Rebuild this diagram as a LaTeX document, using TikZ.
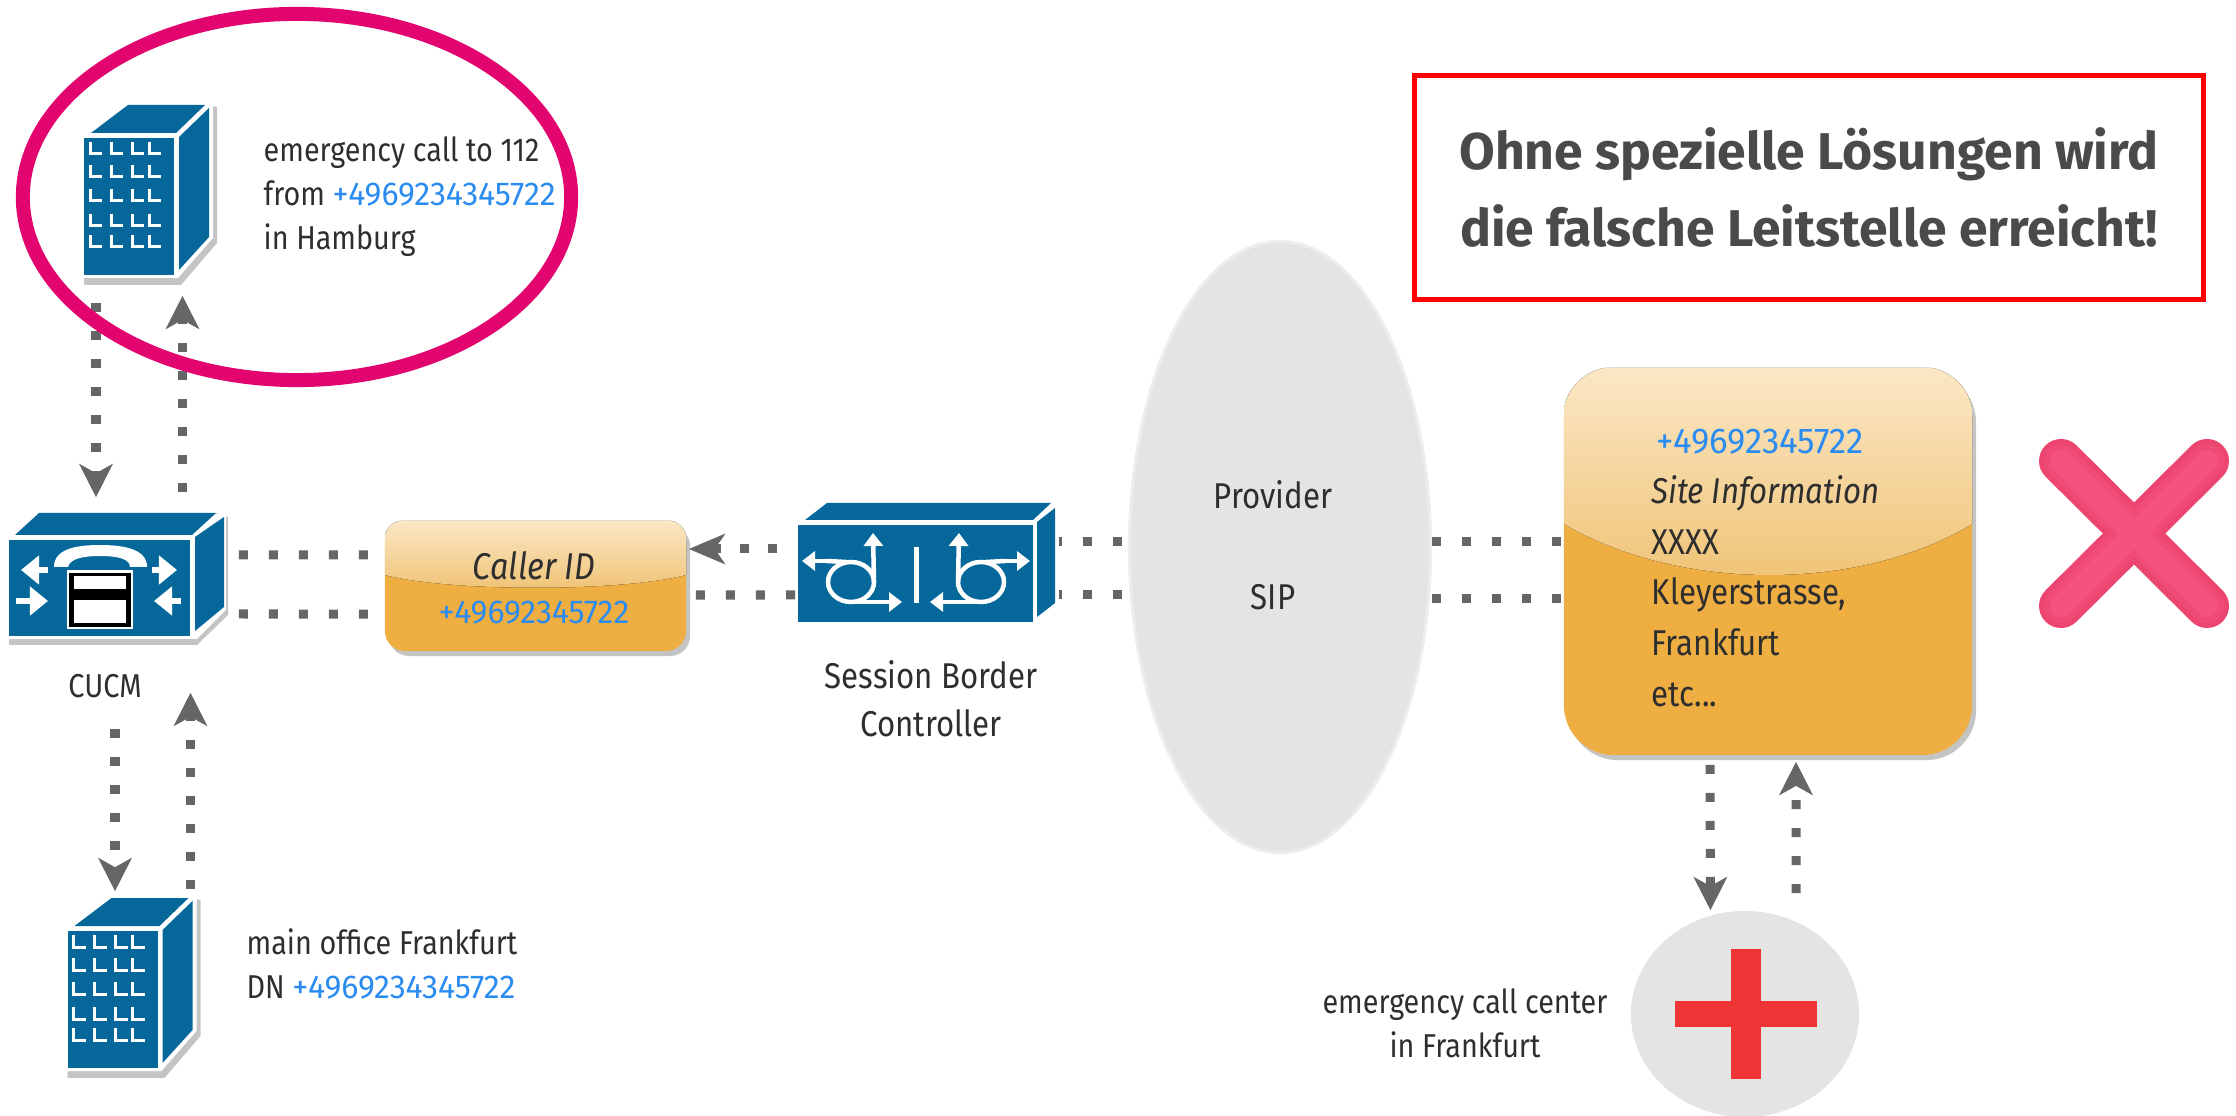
\documentclass[tikz,border=0pt]{standalone}
\usepackage{fontspec}
\usepackage{xcolor}
\usetikzlibrary{arrows.meta,shapes.geometric,shadows}
\setmainfont{Fira Sans}[FakeStretch=0.87]
\newfontfamily\headfont{Fira Sans}
\newfontfamily\numfont{Fira Sans}[FakeStretch=0.97]

\definecolor{iconblue}{HTML}{05679A}
\definecolor{ringpink}{HTML}{E3056F}
\definecolor{dotgrey}{HTML}{666666}
\definecolor{numblue}{HTML}{2A8CF0}
\definecolor{textgrey}{HTML}{2E2E2E}
\definecolor{headgrey}{HTML}{4A4A4A}
\definecolor{shadegrey}{HTML}{C4C4C4}
\definecolor{cloudgrey}{HTML}{E4E4E4}
\definecolor{boxorange}{HTML}{EEAE42}
\definecolor{glosstop}{HTML}{FBE7C6}
\definecolor{glossend}{HTML}{EFC273}
\definecolor{crossred}{HTML}{EF3535}
\definecolor{markpink}{HTML}{EC456F}
\definecolor{markmid}{HTML}{F04B77}
\definecolor{marklight}{HTML}{F5527F}

\newcommand{\dialno}[1]{\textcolor{numblue}{\numfont #1}}

\tikzset{
  iconbox/.style={inner sep=0pt,minimum width=#1},
  dotsdown/.style={dotgrey,line width=.09cm,dash pattern=on .09cm off .19cm,
    -{Stealth[length=.33cm,width=.33cm,inset=.09cm]}},
  dotsflat/.style={dotgrey,line width=.09cm,dash pattern=on .09cm off .21cm},
  labeltext/.style={inner sep=0pt,text=textgrey,align=left,font=\fontsize{9.4}{12.5}\selectfont},
  sidetext/.style={labeltext,align=center,font=\fontsize{10.2}{13.7}\selectfont},
  gelbox/.style={inner sep=0pt,fill=boxorange,
    drop shadow={shadow xshift=.04cm,shadow yshift=-.05cm,fill=shadegrey,opacity=1}},
  whitearrow/.style={white,line width=.06cm,-{Triangle[length=.18cm,width=.28cm]}},
  thinarrow/.style={white,line width=.045cm,-{Triangle[length=.13cm,width=.19cm]}},
  pics/officeblock/.style={code={
    \fill[shadegrey] (0,-5) -- (0,10) -- (97,10) -- (133,-32) -- (133,-168) -- (122,-170) -- cycle;
    \fill[white] (-1,3) -- (94,3) -- (129,-37) -- (129,-172) -- (42,-172) -- (-1,-140) -- cycle;
    \fill[iconblue] (0,0) rectangle (90,-137);
    \fill[iconblue] (44,-170) -- (121,-170) -- (92,-142) -- (7,-142) -- cycle;
    \fill[iconblue] (95,-5) -- (125,-38) -- (125,-167) -- (95,-138) -- cycle;
    \foreach \wx in {6,27,48,65} {
      \foreach \wy in {-121,-98,-74,-49,-28} {
        \draw[white,line width=.03cm] (\wx,\wy-12) -- (\wx,\wy) -- (\wx+12,\wy);
      }
    }
  }},
  pics/loopglyph/.style={code={
    \draw[thinarrow] (-89,-14) -- (-114,-14);
    \draw[white,line width=.045cm] (-89,-14) -- (-70,-13);
    \draw[white,line width=.045cm] (-65,7) ellipse (23 and 20);
    \draw[thinarrow] (-42,7) -- (-43,-42);
    \draw[thinarrow] (-65,27) -- (-14,27);
  }}
}

\begin{document}
\begin{tikzpicture}[x=.01cm,y=-.01cm]
\useasboundingbox (0,0) rectangle (2236,1116);

% buildings and switches
\node[iconbox=1.31cm,minimum height=1.8cm] (hamburg) at (149.5,195) {};
\pic at (84,275) {officeblock};
\node[iconbox=1.31cm,minimum height=1.8cm] (office) at (133,988) {};
\pic at (67.5,1068) {officeblock};

\node[iconbox=2.19cm,minimum height=1.32cm] (cucm) at (116.5,579) {};
\fill[shadegrey] (9,630) -- (9,645) -- (197,645) -- (228,615) -- (228,517) -- (216,513) -- cycle;
\fill[white] (8,639) -- (197,639) -- (226,610) -- (226,514) -- (38,511) -- (8,538) -- cycle;
\fill[iconblue] (9,540) rectangle (190,636);
\fill[iconblue] (39,513) -- (216,513) -- (192,535) -- (15,535) -- cycle;
\fill[iconblue] (195,537) -- (224,517) -- (224,607) -- (195,631) -- cycle;
\fill[white] (54,567) .. controls (54,549) and (76,545) .. (100,545) .. controls (124,545) and (147,549) .. (147,567)
  -- (130,567) .. controls (130,559) and (118,556) .. (100,556) .. controls (82,556) and (70,559) .. (68,567) -- cycle;
\fill[white] (67,570) rectangle (133,629);
\fill[black] (69,573) rectangle (131,627);
\fill[white] (74,576) rectangle (126,589);
\fill[white] (74,600) rectangle (126,623);
\draw[whitearrow] (48,570) -- (21,570);
\draw[whitearrow] (16,601) -- (48,601);
\draw[whitearrow] (152,570) -- (177,570);
\draw[whitearrow] (181,601) -- (154,601);

\node[iconbox=2.57cm,minimum height=1.19cm] (sbc) at (926.5,562.5) {};
\fill[iconblue] (798,525) rectangle (1033,622);
\fill[iconblue] (827,503) -- (1051,503) -- (1033,520) -- (805,520) -- cycle;
\fill[iconblue] (1037,522) -- (1055,508) -- (1055,603) -- (1037,617) -- cycle;
\pic at (916,575) {loopglyph};
\pic[xscale=-1] at (916,575) {loopglyph};
\draw[white,line width=.05cm] (916,547) -- (916,603);

% orange boxes
\node[gelbox,minimum width=3.01cm,minimum height=1.3cm,rounded corners=.2cm] (callerid) at (535.5,586) {};
\begin{scope}
\clip[rounded corners=.2cm] (callerid.north west) rectangle (callerid.south east);
\fill[top color=glosstop,bottom color=glossend] (385,521) rectangle (686,575)
  (385,575) .. controls (450,592) and (620,592) .. (686,575) -- cycle;
\end{scope}
\node[gelbox,minimum width=4.08cm,minimum height=3.87cm,rounded corners=.5cm] (siteinfo) at (1768,561.5) {};
\begin{scope}
\clip[rounded corners=.5cm] (siteinfo.north west) rectangle (siteinfo.south east);
\fill[top color=glosstop,bottom color=glossend] (1564,368) rectangle (1972,524)
  (1564,524) .. controls (1680,592) and (1860,592) .. (1972,524) -- cycle;
\end{scope}

% provider cloud and call center
\node[ellipse,fill=cloudgrey,draw=black!7,line width=.03cm,inner sep=0pt,minimum width=3.01cm,minimum height=6.11cm] (provider) at (1280,547) {};
\node[ellipse,fill=cloudgrey,inner sep=0pt,minimum width=2.28cm,minimum height=2.06cm] (callcenter) at (1745,1014) {};
\fill[crossred] (1675,1001) rectangle (1817,1027);
\fill[crossred] (1731,949) rectangle (1761,1079);

% connectors
\draw[dotsdown] ([shift={(-53.5,17)}]hamburg.south) -- ([shift={(-20.5,-15)}]cucm.north);
\draw[dotsdown] ([shift={(66,-20)}]cucm.north) -- ([shift={(33,10)}]hamburg.south);
\draw[dotsdown] ([shift={(-1.5,83)}]cucm.south) -- ([shift={(-18,-6)}]office.north);
\draw[dotsdown] ([shift={(57.5,-8)}]office.north) -- ([shift={(74,47)}]cucm.south);
\draw[dotsflat] ([shift={(12,-24)}]cucm.east) -- ([yshift=.31cm]callerid.west);
\draw[dotsflat] ([shift={(12,35)}]cucm.east) -- ([yshift=-.28cm]callerid.west);
\draw[dotsdown,-{Stealth[length=.36cm,width=.3cm,inset=.1cm]}] (sbc.west |- 0,549) ++(-20,0) -- ([shift={(2,-37)}]callerid.east);
\draw[dotsflat] (795,595) -- ([yshift=-.09cm]callerid.east);
\draw[dotsflat,dash phase=.06cm] (1059,542) -- (provider.west |- 0,542);
\draw[dotsflat,dash phase=.06cm] (1059,595) -- (provider.west |- 0,595);
\draw[dotsflat] (provider.east |- 0,542) -- (siteinfo.west |- 0,542);
\draw[dotsflat] (provider.east |- 0,599) -- (siteinfo.west |- 0,599);
\draw[dotsdown] ([shift={(-58,9)}]siteinfo.south) -- ([xshift=-.345cm]callcenter.north);
\draw[dotsdown] ([xshift=.51cm,yshift=.17cm]callcenter.north) -- ([shift={(28,6)}]siteinfo.south);

% highlight ring and red mark
\node[ellipse,draw=ringpink,line width=.14cm,inner sep=0pt,minimum width=5.48cm,minimum height=3.66cm] (ring) at (297,197) {};
\draw[markpink,line width=.44cm,line cap=round] (2061,461) -- (2207,606);
\draw[markpink,line width=.44cm,line cap=round] (2207,461) -- (2061,606);
\draw[markmid,line width=.34cm,line cap=round] (2061,461) -- (2207,606);
\draw[markmid,line width=.34cm,line cap=round] (2207,461) -- (2061,606);
\draw[marklight,line width=.22cm,line cap=round] (2061,461) -- (2207,606);
\draw[marklight,line width=.22cm,line cap=round] (2207,461) -- (2061,606);

% labels
\node[labeltext,anchor=west] (hamburgtext) at (263,197) {emergency call to 112\\from \dialno{+4969234345722}\\in Hamburg};
\node[labeltext,anchor=west] (officetext) at (246,964) {main office Frankfurt\\DN \dialno{+4969234345722}};
\node[labeltext] (cucmtext) at (105,686) {CUCM};
\node[sidetext] (sbctext) at (931,699) {Session Border\\Controller};
\node[sidetext] (providertext) at (1273,495) {Provider};
\node[sidetext] (siptext) at (1273,597) {SIP};
\node[labeltext,align=center] (centertext) at (1465,1023) {emergency call center\\in Frankfurt};
\node[sidetext] (calleridtext) at (534,588) {\textit{\fontsize{10.6}{15.5}\selectfont Caller ID}\\[-.04cm]{\fontsize{9.4}{12}\selectfont\dialno{+49692345722}}};
\node[labeltext,anchor=north west,font=\fontsize{10.2}{14.4}\selectfont] (sitetext) at (1651,428)
  {\hspace*{.05cm}\dialno{+49692345722}\\\textit{Site Information}\\XXXX\\Kleyerstrasse,\\Frankfurt\\etc...};

% warning box
\node[draw=red,line width=.05cm,inner sep=0pt,minimum width=7.88cm,minimum height=2.23cm,align=center,text=headgrey,
  font=\headfont\bfseries\fontsize{14.7}{22}\selectfont] (warning) at (1809,187.5)
  {Ohne spezielle Lösungen wird\\die falsche Leitstelle erreicht!};
\end{tikzpicture}
\end{document}
